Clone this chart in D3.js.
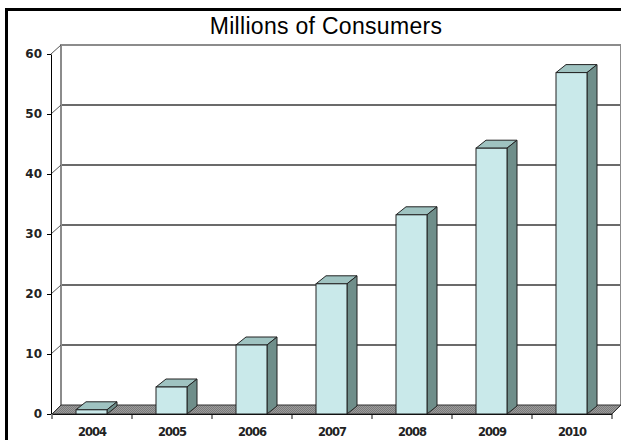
<!DOCTYPE html>
<html>
<head>
<meta charset="utf-8">
<script src="https://cdn.jsdelivr.net/npm/d3@7"></script>
<style>
  body { margin: 0; background: #fff; }
  svg { display: block; }
</style>
</head>
<body>
<script>
// data
var years = ["2004", "2005", "2006", "2007", "2008", "2009", "2010"];
var consumers = [0.7, 4.5, 11.5, 21.7, 33.2, 44.3, 56.9];
var yTicks = [0, 10, 20, 30, 40, 50, 60];

var W = 621, H = 440;

// front plane of the plot, and the 3d depth offsets
var plotLeft = 52, plotRight = 612, plotBottom = 414, plotTop = 54;
var wallDx = 9, wallDy = -9;    // back wall offset
var barDx = 10, barDy = -8;     // column depth
var barW = 31;

var svg = d3.select("body").append("svg")
    .attr("width", W)
    .attr("height", H);

// outer frame
svg.append("rect")
    .attr("x", 6.5).attr("y", 9.5)
    .attr("width", W).attr("height", H)
    .attr("fill", "none")
    .attr("stroke", "#000")
    .attr("stroke-width", 3);

// title
svg.append("text")
    .attr("x", 326).attr("y", 34)
    .attr("text-anchor", "middle")
    .style("font-family", "Liberation Sans, Arial, sans-serif")
    .style("font-size", "23px")
    .style("letter-spacing", "0.3px")
    .text("Millions of Consumers");

// scales
var x = d3.scaleBand().domain(years).range([plotLeft, plotRight]);
var y = d3.scaleLinear().domain([0, 60]).range([plotBottom, plotTop]);

// back wall gridlines
svg.append("g").selectAll("line")
    .data(yTicks.slice(1, -1))
    .join("line")
      .attr("x1", plotLeft + wallDx).attr("x2", plotRight + wallDx)
      .attr("y1", function(d) { return y(d) + wallDy; })
      .attr("y2", function(d) { return y(d) + wallDy; })
      .attr("stroke", "#3a3a3a")
      .attr("stroke-width", 1.3);

// back wall edges
svg.append("path")
    .attr("d", "M" + (plotLeft + wallDx) + "," + (y(0) + wallDy) +
               "V" + (y(60) + wallDy) +
               "H" + (plotRight + wallDx) +
               "V" + (y(0) + wallDy))
    .attr("fill", "none")
    .attr("stroke", "#8c8c8c")
    .attr("stroke-width", 2);

// diagonal connectors from axis ticks to the wall
svg.append("g").selectAll("line")
    .data(yTicks)
    .join("line")
      .attr("x1", plotLeft - 1).attr("x2", plotLeft + wallDx)
      .attr("y1", function(d) { return y(d); })
      .attr("y2", function(d) { return y(d) + wallDy; })
      .attr("stroke", function(d) { return d == 0 ? "none" : "#555"; })
      .attr("stroke-width", 1);

// floor
var defs = svg.append("defs");
var pat = defs.append("pattern")
    .attr("id", "dots")
    .attr("width", 2).attr("height", 2)
    .attr("patternUnits", "userSpaceOnUse");
pat.append("rect").attr("width", 2).attr("height", 2).attr("fill", "#9c9c9c");
pat.append("rect").attr("width", 1).attr("height", 1).attr("fill", "#7a7a7a");
pat.append("rect").attr("x", 1).attr("y", 1).attr("width", 1).attr("height", 1).attr("fill", "#7a7a7a");

svg.append("path")
    .attr("d", "M" + plotLeft + "," + y(0) +
               "L" + plotRight + "," + y(0) +
               "L" + (plotRight + wallDx) + "," + (y(0) + wallDy) +
               "L" + (plotLeft + wallDx) + "," + (y(0) + wallDy) + "Z")
    .attr("fill", "url(#dots)")
    .attr("stroke", "#333")
    .attr("stroke-width", 1);

// columns
var bars = svg.append("g").selectAll("g")
    .data(years)
    .join("g");

function x0(i) { return x(years[i]) + x.bandwidth() / 2 - 0.5 - barW / 2; }

bars.append("path")   // top face
    .attr("d", function(d, i) {
      var a = x0(i), t = y(consumers[i]);
      return "M" + a + "," + t + "L" + (a + barDx) + "," + (t + barDy) +
             "L" + (a + barW + barDx) + "," + (t + barDy) +
             "L" + (a + barW) + "," + t + "Z";
    })
    .attr("fill", "#9fc3c1")
    .attr("stroke", "#222")
    .attr("stroke-width", 1)
    .attr("stroke-linejoin", "round");

bars.append("path")   // side face
    .attr("d", function(d, i) {
      var a = x0(i) + barW, t = y(consumers[i]);
      return "M" + a + "," + t + "L" + (a + barDx) + "," + (t + barDy) +
             "L" + (a + barDx) + "," + (y(0) + barDy) +
             "L" + a + "," + y(0) + "Z";
    })
    .attr("fill", "#6f8e8a")
    .attr("stroke", "#222")
    .attr("stroke-width", 1)
    .attr("stroke-linejoin", "round");

bars.append("rect")   // front face
    .attr("x", function(d, i) { return x0(i); })
    .attr("y", function(d, i) { return y(consumers[i]); })
    .attr("width", barW)
    .attr("height", function(d, i) { return y(0) - y(consumers[i]); })
    .attr("fill", "#c9e9ea")
    .attr("stroke", "#222")
    .attr("stroke-width", 1);

// y axis
var yAxis = svg.append("g")
    .attr("transform", "translate(" + (plotLeft - 1) + ",0)")
    .call(d3.axisLeft(y).tickValues(yTicks).tickSize(4).tickPadding(5).tickSizeOuter(0));
yAxis.selectAll("text")
    .style("font-family", "DejaVu Sans, Verdana, sans-serif")
    .style("font-size", "12px")
    .style("font-weight", "bold")
    .attr("fill", "#222");

// x axis
var xAxis = svg.append("g")
    .attr("transform", "translate(0," + y(0) + ")")
    .call(d3.axisBottom(x).tickSize(0).tickPadding(14).tickSizeOuter(0));
xAxis.select(".domain").attr("stroke", "#111");
xAxis.selectAll("text")
    .style("font-family", "DejaVu Sans, Verdana, sans-serif")
    .style("font-size", "11.5px")
    .style("font-weight", "bold")
    .style("letter-spacing", "-1px")
    .attr("fill", "#222");

// tick marks between categories
svg.append("g").selectAll("line")
    .data(years.concat(["end"]))
    .join("line")
      .attr("x1", function(d) { return d == "end" ? plotRight : x(d); })
      .attr("x2", function(d) { return d == "end" ? plotRight : x(d); })
      .attr("y1", y(0) + 1).attr("y2", y(0) + 5)
      .attr("stroke", "#111");
</script>
</body>
</html>
